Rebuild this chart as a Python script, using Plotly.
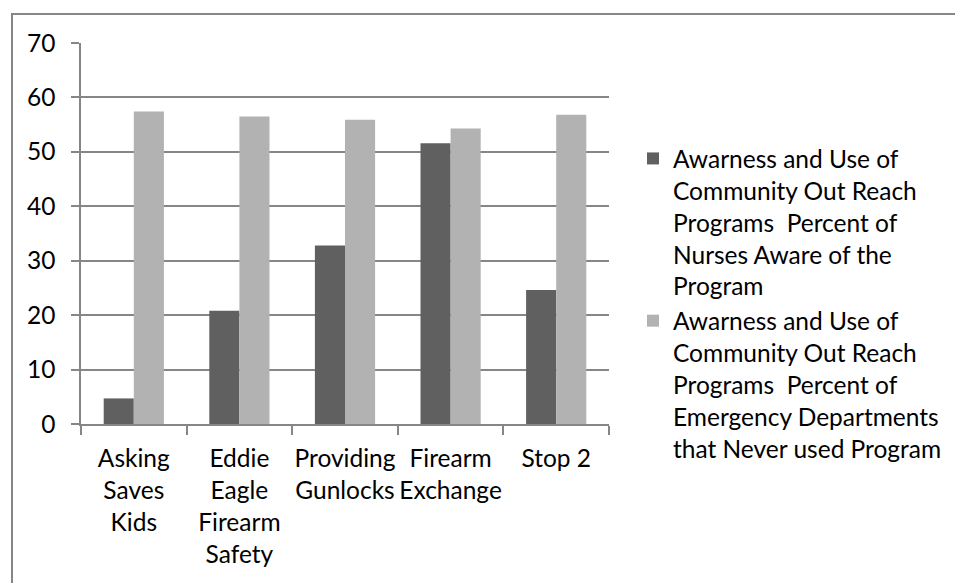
import plotly.graph_objects as go

categories = ["Asking<br>Saves<br>Kids", "Eddie<br>Eagle<br>Firearm<br>Safety",
              "Providing<br>Gunlocks", "Firearm<br>Exchange", "Stop 2"]
nurses_aware = [4.7, 20.8, 32.8, 51.6, 24.6]
ed_never_used = [57.4, 56.5, 55.9, 54.3, 56.8]
series_names = [
    "Awarness and Use of<br>Community Out Reach<br>Programs\u00a0 Percent of<br>Nurses Aware of the<br>Program",
    "Awarness and Use of<br>Community Out Reach<br>Programs\u00a0 Percent of<br>Emergency Departments<br>that Never used Program",
]
y_ticks = [0, 10, 20, 30, 40, 50, 60, 70]

W, H = 955, 583
L, R, T, B = 81, 346, 43, 159
pw, ph = W - L - R, H - T - B
GRID = "#868686"
FONT = dict(family="Lato, Carlito, sans-serif", size=24.5, color="#000000")

fig = go.Figure()
fig.add_trace(go.Bar(x=categories, y=nurses_aware, name=series_names[0],
                     marker=dict(color="#606060", line=dict(width=0)), legendgroup="a"))
fig.add_trace(go.Bar(x=categories, y=ed_never_used, name=series_names[1],
                     marker=dict(color="#b2b2b2", line=dict(width=0)), legendgroup="b"))

def px_x(x):
    return (x - L) / pw

def px_y(y):
    return (H - B - y) / ph

fig.update_layout(
    width=W, height=H,
    margin=dict(l=L, r=R, t=T, b=B, pad=0, autoexpand=False),
    paper_bgcolor="white", plot_bgcolor="white",
    font=FONT,
    barmode="group", bargap=0.43, bargroupgap=0,
    showlegend=True,
    legend=dict(x=px_x(633), y=px_y(136), xanchor="left", yanchor="top",
                font=FONT, valign="top", tracegroupgap=0,
                bgcolor="rgba(0,0,0,0)", itemsizing="constant"),
    shapes=[dict(type="rect", xref="paper", yref="paper",
                 x0=px_x(12), x1=px_x(990), y0=px_y(14), y1=px_y(620),
                 line=dict(color=GRID, width=2), fillcolor="rgba(0,0,0,0)", layer="below")],
)
fig.update_xaxes(showgrid=False, showline=True, linecolor=GRID, linewidth=1.5,
                 ticks="outside", tickson="boundaries", ticklen=9, tickcolor=GRID,
                 tickwidth=1.5, ticklabelstandoff=12, tickfont=FONT, tickangle=0,
                 automargin=False)
fig.update_yaxes(range=[0, 70], tickvals=y_ticks, showgrid=True, gridcolor=GRID,
                 gridwidth=1.5, showline=True, linecolor=GRID, linewidth=1.5,
                 ticks="outside", ticklen=8, tickcolor=GRID, tickwidth=1.5,
                 ticklabelstandoff=11, tickfont=FONT, zeroline=False, automargin=False)

fig.write_html("out.html")
